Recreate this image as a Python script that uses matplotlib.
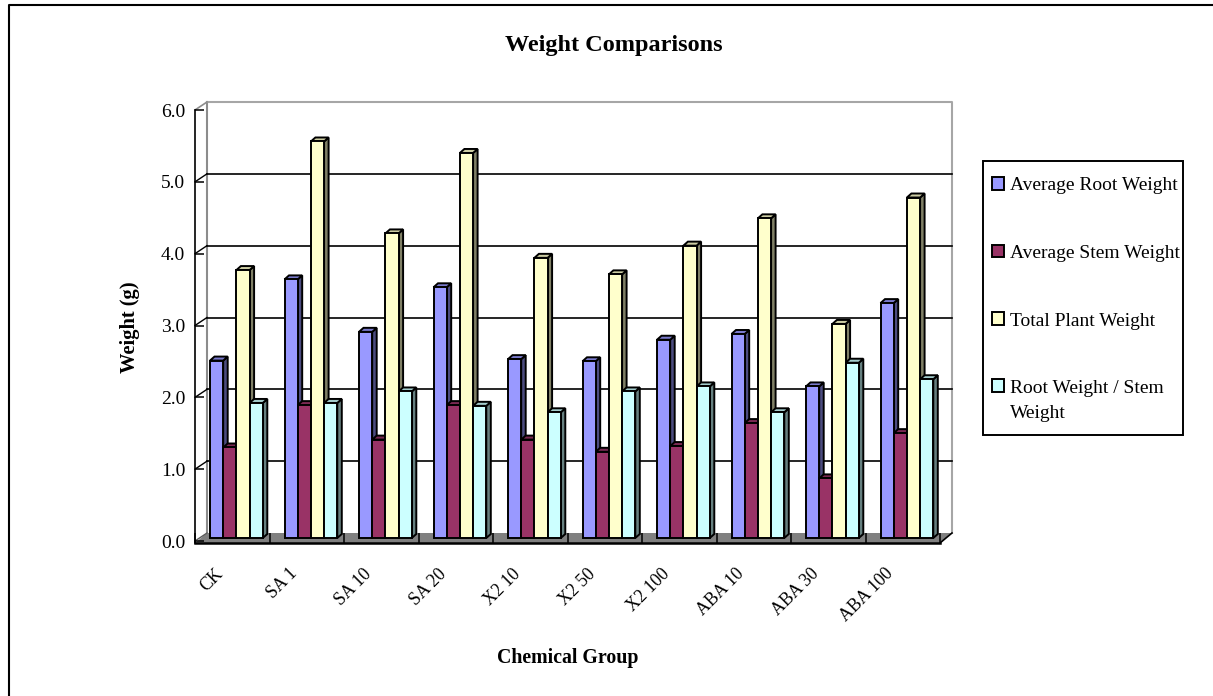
import matplotlib
matplotlib.use("Agg")
import matplotlib.pyplot as plt
from matplotlib.lines import Line2D
from matplotlib.patches import Patch, Polygon, Rectangle
from matplotlib.transforms import ScaledTranslation

categories = ["CK", "SA 1", "SA 10", "SA 20", "X2 10", "X2 50", "X2 100", "ABA 10", "ABA 30", "ABA 100"]
root_weight = [2.47, 3.60, 2.87, 3.49, 2.49, 2.46, 2.76, 2.84, 2.11, 3.27]
stem_weight = [1.26, 1.85, 1.37, 1.85, 1.37, 1.20, 1.28, 1.60, 0.83, 1.46]
total_weight = [3.73, 5.52, 4.24, 5.36, 3.90, 3.67, 4.07, 4.45, 2.98, 4.74]
ratio_weight = [1.88, 1.88, 2.04, 1.84, 1.75, 2.04, 2.11, 1.75, 2.44, 2.21]
series_names = ["Average Root Weight", "Average Stem Weight", "Total Plant Weight",
                "Root Weight / Stem\nWeight"]
series_values = [root_weight, stem_weight, total_weight, ratio_weight]
y_ticks = [0, 1, 2, 3, 4, 5, 6]

front_colors = ["#9999FF", "#993366", "#FFFFCC", "#CCFFFF"]
side_colors = ["#4C4C80", "#4C1933", "#808066", "#668080"]
top_colors = ["#7A7ACC", "#7A2952", "#CCCCA3", "#A3CCCC"]

W, H = 1213, 696
plt.rcParams["font.family"] = ["Liberation Serif", "DejaVu Serif"]
fig = plt.figure(figsize=(W / 100, H / 100), dpi=100, facecolor="white")
ax = fig.add_axes([195 / W, (H - 541) / H, 745 / W, 431 / H], facecolor="none")
ax.set_xlim(0, 10)
ax.set_ylim(0, 6)

px_x = 10 / 745
px_y = 6 / 431
wall_dx, wall_dy = 12 * px_x, 8 * px_y
floor_drop = 2 * px_y
bar_lift = 3 * px_y
bar_start = 15 * px_x
bar_w = 13.2 * px_x
depth_x, depth_y = 4.5 * px_x, 4 * px_y
EDGE = 1.4

# floor
ax.add_patch(Polygon([(0, -floor_drop), (10, -floor_drop), (10 + wall_dx, wall_dy), (wall_dx, wall_dy)],
                     facecolor="#808080", edgecolor="none", zorder=1, clip_on=False))
# walls
ax.plot([wall_dx, wall_dx], [wall_dy, 6 + wall_dy], color="#8C8C8C", lw=1.5, zorder=1.2, clip_on=False)
ax.plot([wall_dx, 10 + wall_dx, 10 + wall_dx], [6 + wall_dy, 6 + wall_dy, wall_dy],
        color="#A6A6A6", lw=1.5, zorder=1.2, clip_on=False)
ax.plot([0, wall_dx], [6, 6 + wall_dy], color="#8C8C8C", lw=1.2, zorder=1.2, clip_on=False)
ax.plot([10, 10 + wall_dx], [-floor_drop, wall_dy], color="black", lw=1.2, zorder=1.3, clip_on=False)
ax.plot([0, 0], [-floor_drop, 0], color="black", lw=1.2, zorder=2.5, clip_on=False)
# gridlines on the back wall with the joining diagonals
for v in y_ticks[1:-1]:
    ax.plot([wall_dx, 10 + wall_dx], [v + wall_dy] * 2, color="black", lw=1.2, zorder=1.3, clip_on=False)
    ax.plot([0, wall_dx], [v, v + wall_dy], color="black", lw=1.0, zorder=1.3, clip_on=False)
ax.plot([0, wall_dx], [0, wall_dy], color="#5A5A5A", lw=1.0, zorder=1.3, clip_on=False)

# bars
for i in range(len(categories)):
    left = i + bar_start
    for s, values in enumerate(series_values):
        x0 = left + s * bar_w
        x1 = x0 + bar_w
        v = values[i] + bar_lift
        z = 3 + i + s * 0.1
        ax.add_patch(Polygon([(x1, bar_lift), (x1 + depth_x, bar_lift + depth_y),
                              (x1 + depth_x, v + depth_y), (x1, v)],
                             facecolor=side_colors[s], edgecolor="black", lw=EDGE, zorder=z))
        ax.add_patch(Polygon([(x0, v), (x1, v), (x1 + depth_x, v + depth_y), (x0 + depth_x, v + depth_y)],
                             facecolor=top_colors[s], edgecolor="black", lw=EDGE, zorder=z))
        ax.bar(x0, values[i], width=bar_w, bottom=bar_lift, align="edge", color=front_colors[s],
               edgecolor="black", linewidth=EDGE, zorder=z + 0.01)

# axes
for side in ("top", "right"):
    ax.spines[side].set_visible(False)
ax.spines["left"].set_linewidth(1.2)
ax.spines["bottom"].set_linewidth(1.8)
ax.spines["bottom"].set_position(("outward", 1.5))
ax.set_yticks(y_ticks)
ax.set_yticklabels([f"{v:.1f}" for v in y_ticks], fontsize=14)
ax.tick_params(axis="y", direction="in", length=6.5, width=1.1, pad=7)
ax.set_xticks(range(11), minor=True)
ax.tick_params(axis="x", which="minor", direction="in", length=7.2, width=1.1)
ax.set_xticks([i + 0.5 for i in range(10)])
ax.set_xticklabels(categories, fontsize=12.8, rotation=45, ha="right", rotation_mode="anchor")
ax.tick_params(axis="x", which="major", length=0, pad=16)
label_shift = ScaledTranslation(-13 / 72, 0, fig.dpi_scale_trans)
for lab in ax.get_xticklabels():
    lab.set_transform(lab.get_transform() + label_shift)

# titles
fig.text(613.5 / W, 1 - 46 / H, "Weight Comparisons", fontsize=17.5, fontweight="bold", ha="center", va="center")
fig.text(568 / W, 1 - 658 / H, "Chemical Group", fontsize=14.3, fontweight="bold", ha="center", va="center")
fig.text(130 / W, 1 - 327 / H, "Weight (g)", fontsize=14.8, fontweight="bold", ha="center", va="center",
         rotation=90)

# legend
fig.add_artist(Rectangle((983 / W, 1 - 435 / H), 200 / W, 274 / H, transform=fig.transFigure,
                         facecolor="white", edgecolor="black", linewidth=1.4))
handles = [Patch(facecolor=c, edgecolor="black", linewidth=1.4) for c in front_colors]
leg = fig.legend(handles, series_names, loc="upper left", bbox_to_anchor=(992 / W, 1 - 177 / H),
                 fontsize=14, frameon=False, handlelength=0.62, handleheight=0.62, handletextpad=0.31,
                 labelspacing=2.6, borderpad=0, borderaxespad=0, labelcolor="black")
for t in leg.get_texts():
    t.set_linespacing(1.63)
last = leg.legend_handles[3]
last.set_y(last.get_y() + 11)

# outer frame: left and top edges only
fig.add_artist(Line2D([8.5 / W, 8.5 / W, 1], [0, 1 - 4.5 / H, 1 - 4.5 / H], color="black", lw=1.5))

fig.savefig("out.png", dpi=100)
